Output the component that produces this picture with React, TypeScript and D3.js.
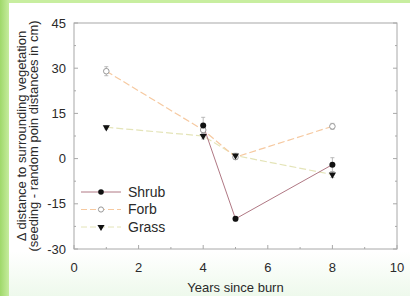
import React from "react";
import * as d3 from "d3";

const xTicks = [0, 2, 4, 6, 8, 10];
const yTicks = [-30, -15, 0, 15, 30, 45];
const xMinor = [1, 3, 5, 7, 9];
const yMinor = [-22.5, -7.5, 7.5, 22.5, 37.5];

const shrubYears = [4, 5, 8];
const shrubVals = [11, -20, -2];
const shrubErr = [2.7, 0.8, 2.3];

const forbYears = [1, 4, 5, 8];
const forbVals = [29, 9.5, 0.5, 10.7];
const forbErr = [1.5, 1, 0.8, 1];

const grassYears = [1, 4, 5, 8];
const grassVals = [10.4, 7.5, 1, -5.3];
const grassErr = [0.6, 1, 0.8, 1];

const legendItems = ["Shrub", "Forb", "Grass"];

const W = 410;
const H = 296;
const font = "Arial, 'Liberation Sans', sans-serif";

export default function App() {
  const x = d3.scaleLinear().domain([0, 10]).range([74, 397]);
  const y = d3.scaleLinear().domain([-30, 45]).range([249, 23]);
  const line = d3
    .line<[number, number]>()
    .x((d) => x(d[0]))
    .y((d) => y(d[1]));

  const shrub = shrubYears.map((t, i) => [t, shrubVals[i]] as [number, number]);
  const forb = forbYears.map((t, i) => [t, forbVals[i]] as [number, number]);
  const grass = grassYears.map((t, i) => [t, grassVals[i]] as [number, number]);

  const tri = d3.symbol().type(d3.symbolTriangle).size(22)();

  const shrubColor = "#b07884";
  const forbColor = "#f6c9a0";
  const grassColor = "#e4e4b8";
  const axisColor = "#a8a8a8";
  const textColor = "#2a2a2a";

  const errBars = (years: number[], vals: number[], errs: number[], key: string) =>
    years.map((t, i) => (
      <g key={key + i} stroke="#aaa" strokeWidth={0.8}>
        <line x1={x(t)} x2={x(t)} y1={y(vals[i] - errs[i])} y2={y(vals[i] + errs[i])} />
        <line x1={x(t) - 2} x2={x(t) + 2} y1={y(vals[i] + errs[i])} y2={y(vals[i] + errs[i])} />
        <line x1={x(t) - 2} x2={x(t) + 2} y1={y(vals[i] - errs[i])} y2={y(vals[i] - errs[i])} />
      </g>
    ));

  const [x0, x1] = x.range();
  const [y0, y1] = y.range();

  return (
    <svg
      width={W}
      height={H}
      style={{ position: "absolute", left: 0, top: 0 }}
      fontFamily={font}
    >
      <defs>
        <linearGradient id="lg" x1="0" x2="1" y1="0" y2="0">
          <stop offset="0" stopColor="#9fd86a" />
          <stop offset="1" stopColor="#c6ec9e" />
        </linearGradient>
        <linearGradient id="bg" x1="0" x2="0" y1="0" y2="1">
          <stop offset="0" stopColor="#ffffff" />
          <stop offset="0.85" stopColor="#ffffff" />
          <stop offset="1" stopColor="#eef9ec" />
        </linearGradient>
      </defs>
      <rect x={0} y={0} width={W} height={H} fill="url(#bg)" />
      <rect x={0} y={0} width={W} height={3} fill="#c8eea0" />
      <rect x={0} y={0} width={9} height={H} fill="url(#lg)" />

      {/* frame */}
      <rect x={x0} y={y1} width={x1 - x0} height={y0 - y1} fill="none" stroke={axisColor} strokeWidth={1} />

      {/* ticks */}
      {yTicks.map((v) => (
        <g key={"yt" + v} stroke={axisColor}>
          <line x1={x0} x2={x0 + 4} y1={y(v)} y2={y(v)} />
          <line x1={x1} x2={x1 - 4} y1={y(v)} y2={y(v)} />
        </g>
      ))}
      {yMinor.map((v) => (
        <g key={"ym" + v} stroke={axisColor}>
          <line x1={x0} x2={x0 + 2} y1={y(v)} y2={y(v)} />
          <line x1={x1} x2={x1 - 2} y1={y(v)} y2={y(v)} />
        </g>
      ))}
      {xTicks.map((v) => (
        <line key={"xt" + v} stroke={axisColor} x1={x(v)} x2={x(v)} y1={y0} y2={y0 - 4} />
      ))}
      {xMinor.map((v) => (
        <line key={"xm" + v} stroke={axisColor} x1={x(v)} x2={x(v)} y1={y0} y2={y0 - 2} />
      ))}

      {/* tick labels */}
      {yTicks.map((v) => (
        <text key={"yl" + v} x={x0 - 8} y={y(v)} dy="0.35em" textAnchor="end" fontSize={13} fill={textColor}>
          {v}
        </text>
      ))}
      {xTicks.map((v) => (
        <text key={"xl" + v} x={x(v)} y={y0 + 18} dy="0.35em" textAnchor="middle" fontSize={13} fill={textColor}>
          {v}
        </text>
      ))}

      {/* axis titles */}
      <text x={(x0 + x1) / 2} y={287} dy="0.35em" textAnchor="middle" fontSize={13} fill={textColor}>
        Years since burn
      </text>
      <g transform={`translate(21, ${(y0 + y1) / 2}) rotate(-90)`}>
        <text x={0} y={0} dy="0.35em" textAnchor="middle" fontSize={13} fill={textColor}>
          Δ distance to surrounding vegetation
        </text>
        <text x={0} y={12.5} dy="0.35em" textAnchor="middle" fontSize={13} fill={textColor}>
          (seeding - random poin distances in cm)
        </text>
      </g>

      {/* lines */}
      <path d={line(grass) || ""} fill="none" stroke={grassColor} strokeWidth={1.2} strokeDasharray="7,3" />
      <path d={line(forb) || ""} fill="none" stroke={forbColor} strokeWidth={1.2} strokeDasharray="7,3" />
      <path d={line(shrub) || ""} fill="none" stroke={shrubColor} strokeWidth={1} />

      {errBars(forbYears, forbVals, forbErr, "fe")}
      {errBars(grassYears, grassVals, grassErr, "ge")}
      {errBars(shrubYears, shrubVals, shrubErr, "se")}

      {/* markers */}
      {forb.map((d, i) => (
        <circle key={"f" + i} cx={x(d[0])} cy={y(d[1])} r={2.8} fill="#fff" stroke="#999" strokeWidth={1} />
      ))}
      {grass.map((d, i) => (
        <path key={"g" + i} d={tri || ""} transform={`translate(${x(d[0])},${y(d[1])}) rotate(180)`} fill="#111" />
      ))}
      {shrub.map((d, i) => (
        <circle key={"s" + i} cx={x(d[0])} cy={y(d[1])} r={3} fill="#111" />
      ))}

      {/* legend */}
      {legendItems.map((name, i) => {
        const ly = 192 + i * 17.5;
        const col = [shrubColor, forbColor, grassColor][i];
        return (
          <g key={"lg" + name}>
            <line x1={81} x2={121} y1={ly} y2={ly} stroke={col} strokeWidth={1} strokeDasharray={i === 0 ? undefined : "6,3"} />
            {i === 0 && <circle cx={101} cy={ly} r={2.8} fill="#111" />}
            {i === 1 && <circle cx={101} cy={ly} r={2.6} fill="#fff" stroke="#999" strokeWidth={1} />}
            {i === 2 && <path d={tri || ""} transform={`translate(101,${ly}) rotate(180)`} fill="#111" />}
            <text x={128} y={ly} dy="0.35em" fontSize={14} fill={textColor}>
              {name}
            </text>
          </g>
        );
      })}
    </svg>
  );
}
